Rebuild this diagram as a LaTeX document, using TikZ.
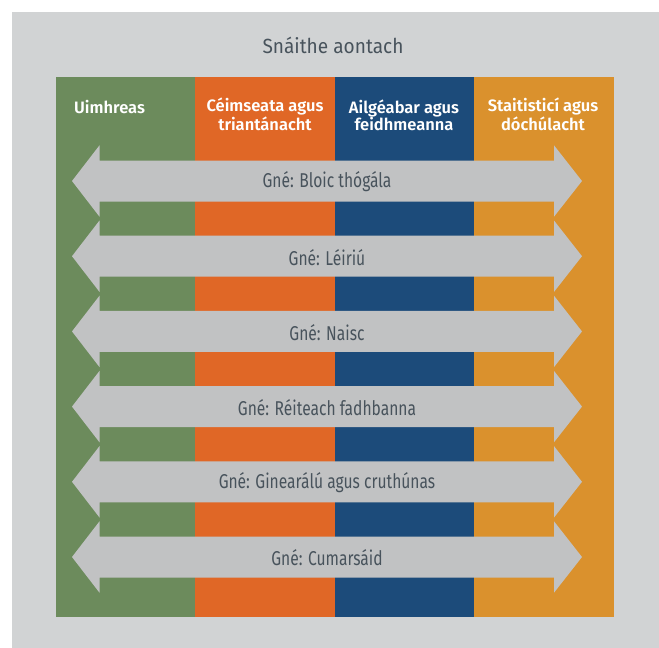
\documentclass[tikz,border=0pt]{standalone}
\usepackage{fontspec}
\setmainfont{Fira Sans}
\newfontfamily\headfont{Fira Sans SemiBold}
\newfontfamily\labelfont[FakeStretch=0.78]{Fira Sans}
\newfontfamily\titlefont[FakeStretch=0.93]{Fira Sans}
\definecolor{bggrey}{HTML}{D1D3D4}
\definecolor{arrowgrey}{HTML}{C1C2C3}
\definecolor{cgreen}{HTML}{6C8B5C}
\definecolor{corange}{HTML}{E06726}
\definecolor{cblue}{HTML}{1C4B7A}
\definecolor{cyellow}{HTML}{DA912D}
\definecolor{txtgrey}{HTML}{48535C}
\begin{document}
\begin{tikzpicture}[x=1pt,y=-1pt,
  colbox/.style={draw=none,anchor=north west,minimum width=139.5pt,minimum height=539.5pt,inner sep=0pt,outer sep=0pt},
  headtext/.style={text=white,font=\headfont\fontsize{16.5}{17}\selectfont,align=center,anchor=base,inner sep=0pt},
  arrowlabel/.style={text=txtgrey,font=\labelfont\fontsize{20}{22}\selectfont,inner sep=0pt},
  titletext/.style={text=txtgrey,font=\titlefont\fontsize{20.5}{24}\selectfont,inner sep=0pt}]
\useasboundingbox (0,0) rectangle (659,648);
\fill[white] (0,0) rectangle (659,648);
\fill[bggrey] (12,12) rectangle (659,648);
\node[titletext] (title) at (333,45.5) {Snáithe aontach};
% columns
\node[colbox,fill=cgreen] (c1) at (56,77) {};
\node[colbox,fill=corange] (c2) at (195,77) {};
\node[colbox,fill=cblue] (c3) at (334.5,77) {};
\node[colbox,fill=cyellow] (c4) at (474,77) {};
% headers (base anchor = baseline of the last line)
\node[headtext,anchor=base west] (h1) at (74,113) {Uimhreas};
\node[headtext] (h2) at (265,130) {Céimseata agus\\triantánacht};
\node[headtext] (h3) at (404,130) {Ailgéabar agus\\feidhmeanna};
\node[headtext] (h4) at (543,130) {Staitisticí agus\\dóchúlacht};
% arrows
\foreach \cy/\lab/\nm in {181/{Gné: Bloic thógála}/a1,256.2/{Gné: Léiriú}/a2,331.4/{Gné: Naisc}/a3,406.6/{Gné: Réiteach fadhbanna}/a4,481.8/{Gné: Ginearálú agus cruthúnas}/a5,557/{Gné: Cumarsáid}/a6}{
  \fill[arrowgrey] (72,\cy) -- (99.5,\cy-35.7) -- (99.5,\cy-20.5) -- (554,\cy-20.5) -- (554,\cy-35.7) -- (582,\cy)
    -- (554,\cy+35.7) -- (554,\cy+20.5) -- (99.5,\cy+20.5) -- (99.5,\cy+35.7) -- cycle;
  \node[arrowlabel] (\nm) at (327,\cy+1) {\lab};
}
\end{tikzpicture}
\end{document}
